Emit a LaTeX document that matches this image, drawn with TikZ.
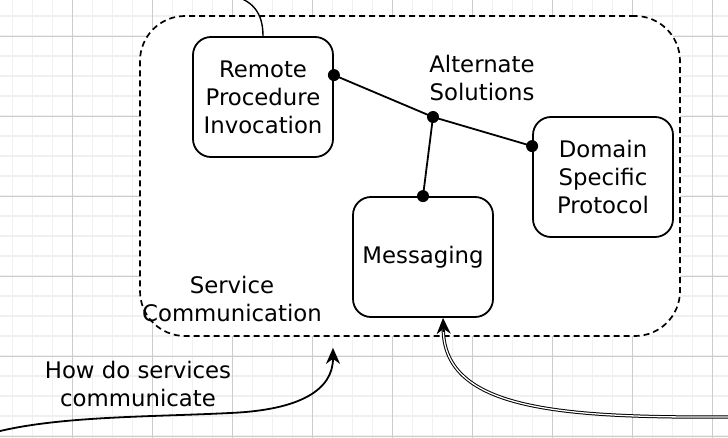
\documentclass[tikz,border=0pt]{standalone}
\usepackage{fontspec}
\setmainfont{DejaVu Sans}
\usetikzlibrary{arrows.meta,calc}
\tikzset{
  container/.style={draw, fill=white, line width=1.7pt, dash pattern=on 6pt off 4pt, rounded corners=45pt, minimum width=540pt, minimum height=320pt, inner sep=0pt},
  box/.style={draw, fill=white, line width=1.8pt, rounded corners=18pt, minimum width=140pt, minimum height=120pt, inner sep=0pt, align=center},
  lbl/.style={align=center, inner sep=0pt},
  conn/.style={line width=1.8pt},
  dot/.style={fill=black},
  tip/.style={-{Stealth[length=16pt,width=14pt,inset=5pt]}},
  minorgrid/.style={draw=black!6, line width=1.2pt},
  majorgrid/.style={draw=black!20, line width=0.9pt}
}
\begin{document}
\begin{tikzpicture}[x=1pt,y=-1pt,font=\fontsize{22.8}{28}\selectfont]
\useasboundingbox (0,0) rectangle (728,438);
\clip (0,0) rectangle (728,438);
\fill[white] (0,0) rectangle (728,438);
% grid
\foreach \gx in {12.5,32.5,...,730} \draw[minorgrid] (\gx,0) -- (\gx,438);
\foreach \gy in {16,36,...,440} \draw[minorgrid] (0,\gy) -- (728,\gy);
\foreach \gx in {72.5,152.5,...,730} \draw[majorgrid] (\gx,0) -- (\gx,438);
\foreach \gy in {36,116,...,440} \draw[majorgrid] (0,\gy) -- (728,\gy);
% container
\node[container] (cont) at (410,176) {};
% boxes
\node[box] (rpi) at (263,97) {Remote\\Procedure\\Invocation};
\node[box] (msg) at (423,257) {Messaging};
\node[box] (dsp) at (603,177) {Domain\\Specific\\Protocol};
% labels
\node[lbl] (alt) at (482,78) {Alternate\\Solutions};
\node[lbl] (svc) at (232,299) {Service\\Communication};
\node[lbl] (how) at (138,384) {How do services\\communicate};
% connector points
\coordinate (rpidot) at ($(rpi.north east)+(0,39)$);
\coordinate (junc) at (433,117);
\coordinate (dspdot) at ($(dsp.north west)+(0,30)$);
\coordinate (msgdot) at (msg.north);
\draw[conn] (rpidot) -- (junc) -- (dspdot);
\draw[conn] (msgdot) -- (junc);
\foreach \p in {rpidot,junc,dspdot,msgdot} \fill[dot] (\p) circle (6pt);
% top curve
\coordinate (topend) at (224,-6);
\draw[line width=1.4pt] (rpi.north) .. controls ($(rpi.north)+(0,-22)$) and (254,-2) .. (topend);
% how arrow
\coordinate (howstart) at (-4,432);
\coordinate (howend) at ($(cont.south)+(-77,11)$);
\draw[line width=1.8pt,tip] (howstart) .. controls (60,416) and (150,417) .. (230,413) .. controls (300,410) and (333,390) .. (howend);
% double arrow
\coordinate (dblstart) at (732,417);
\coordinate (dblend) at ($(msg.south)+(20,0)$);
\draw[line width=1pt, double, double distance=1.3pt, shorten >=12pt] (dblstart) .. controls (560,418) and (445,410) .. (dblend);
\draw[line width=1.8pt,tip] ($(msg.south)+(20.6,14)$) -- (dblend);
\end{tikzpicture}
\end{document}
